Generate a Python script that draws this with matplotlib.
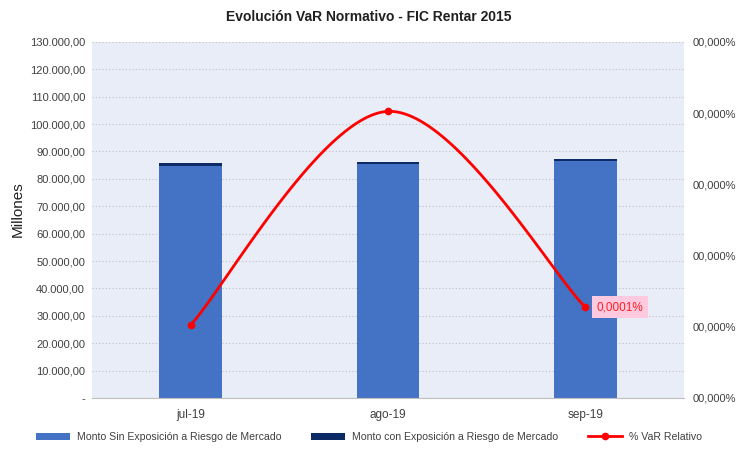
import matplotlib
matplotlib.use("Agg")
import matplotlib.pyplot as plt
import numpy as np
from matplotlib.ticker import FuncFormatter, MultipleLocator

plt.rcParams['font.family'] = ['Liberation Sans', 'DejaVu Sans']

meses = ["jul-19", "ago-19", "sep-19"]
sin_exposicion = [84850, 85350, 86550]
con_exposicion = [850, 900, 850]
var_relativo = [0.000082, 0.000322, 0.000102]
etiqueta_sep = "0,0001%"


def miles(v, pos):
    if v == 0:
        return "-"
    s = f"{v:,.2f}"
    return s.replace(",", "X").replace(".", ",").replace("X", ".")


def pct(v, pos):
    return f"{v:06.3f}".replace(".", ",") + "%"


def catmull_rom(xs, ys, n=60):
    # curva suavizada tipo Excel entre los puntos
    px = np.concatenate([[xs[0]], xs, [xs[-1]]])
    py = np.concatenate([[ys[0]], ys, [ys[-1]]])
    ox, oy = [], []
    for i in range(1, len(px) - 2):
        t = np.linspace(0, 1, n)
        p0, p1, p2, p3 = px[i-1], px[i], px[i+1], px[i+2]
        q0, q1, q2, q3 = py[i-1], py[i], py[i+1], py[i+2]
        h = lambda a, b, c, d: 0.5 * ((2*b) + (-a + c)*t + (2*a - 5*b + 4*c - d)*t**2 + (-a + 3*b - 3*c + d)*t**3)
        ox.extend(h(p0, p1, p2, p3))
        oy.extend(h(q0, q1, q2, q3))
    return np.array(ox), np.array(oy)


fig = plt.figure(figsize=(7.38, 4.59), dpi=100)
ax = fig.add_axes([0.1247, 0.133, 0.802, 0.7756])
ax.set_facecolor("#E9EDF7")
x = np.arange(len(meses))

ax.bar(x, sin_exposicion, width=0.318, color="#4472C4", label="Monto Sin Exposición a Riesgo de Mercado", zorder=2)
ax.bar(x, con_exposicion, width=0.318, bottom=sin_exposicion, color="#0B2A66",
       label="Monto con Exposición a Riesgo de Mercado", zorder=2)

ax.set_xlim(-0.5, 2.5)
ax.set_ylim(0, 130000)
ax.yaxis.set_major_locator(MultipleLocator(10000))
ax.yaxis.set_major_formatter(FuncFormatter(miles))
ax.grid(axis="y", color="#BFBFBF", linestyle=(0, (1, 2)), linewidth=0.8, zorder=1)
ax.set_xticks(x)
ax.set_xticklabels(meses)
ax.tick_params(axis="y", length=0, labelsize=8, colors="#404040", pad=5)
ax.tick_params(axis="x", length=0, labelsize=8.5, colors="#404040", pad=8)
for s in ["top", "left", "right"]:
    ax.spines[s].set_visible(False)
ax.spines["bottom"].set_color("#BFBFBF")
ax.set_ylabel("Millones", fontsize=11, color="#202020")
ax.yaxis.set_label_coords(-0.113, 0.53)

ax2 = ax.twinx()
ax2.set_ylim(0, 0.0004)
ax2.yaxis.set_major_locator(MultipleLocator(0.00008))
ax2.yaxis.set_major_formatter(FuncFormatter(pct))
ax2.tick_params(axis="y", length=0, labelsize=8, colors="#404040", pad=6)
for s in ["top", "left", "right", "bottom"]:
    ax2.spines[s].set_visible(False)

cx, cy = catmull_rom(x.astype(float), np.array(var_relativo))
ax2.plot(cx, cy, color="#FF0000", linewidth=2, zorder=3)
ax2.plot(x, var_relativo, "o", color="#FF0000", markersize=4.5, zorder=4)
linea, = ax2.plot([], [], color="#FF0000", linewidth=2, marker="o", markersize=4.5, label="% VaR Relativo")

ax2.annotate(etiqueta_sep, (x[2], var_relativo[2]), xytext=(8, 0), textcoords="offset points",
             ha="left", va="center", fontsize=8.5, color="#FF2020",
             bbox=dict(boxstyle="square,pad=0.4", facecolor="#FFC9E0", edgecolor="none"))

fig.text(0.5, 0.963, "Evolución VaR Normativo - FIC Rentar 2015", ha="center", va="center",
         fontsize=10, fontweight="bold", color="#202020")

h1, l1 = ax.get_legend_handles_labels()
fig.legend(h1 + [linea], l1 + ["% VaR Relativo"], loc="center", bbox_to_anchor=(0.5, 0.048), ncol=3,
           frameon=False, fontsize=7.6, handlelength=3.2, handleheight=0.6, handletextpad=0.7,
           columnspacing=2.8, labelcolor="#404040")

fig.savefig("out.png", dpi=100)
